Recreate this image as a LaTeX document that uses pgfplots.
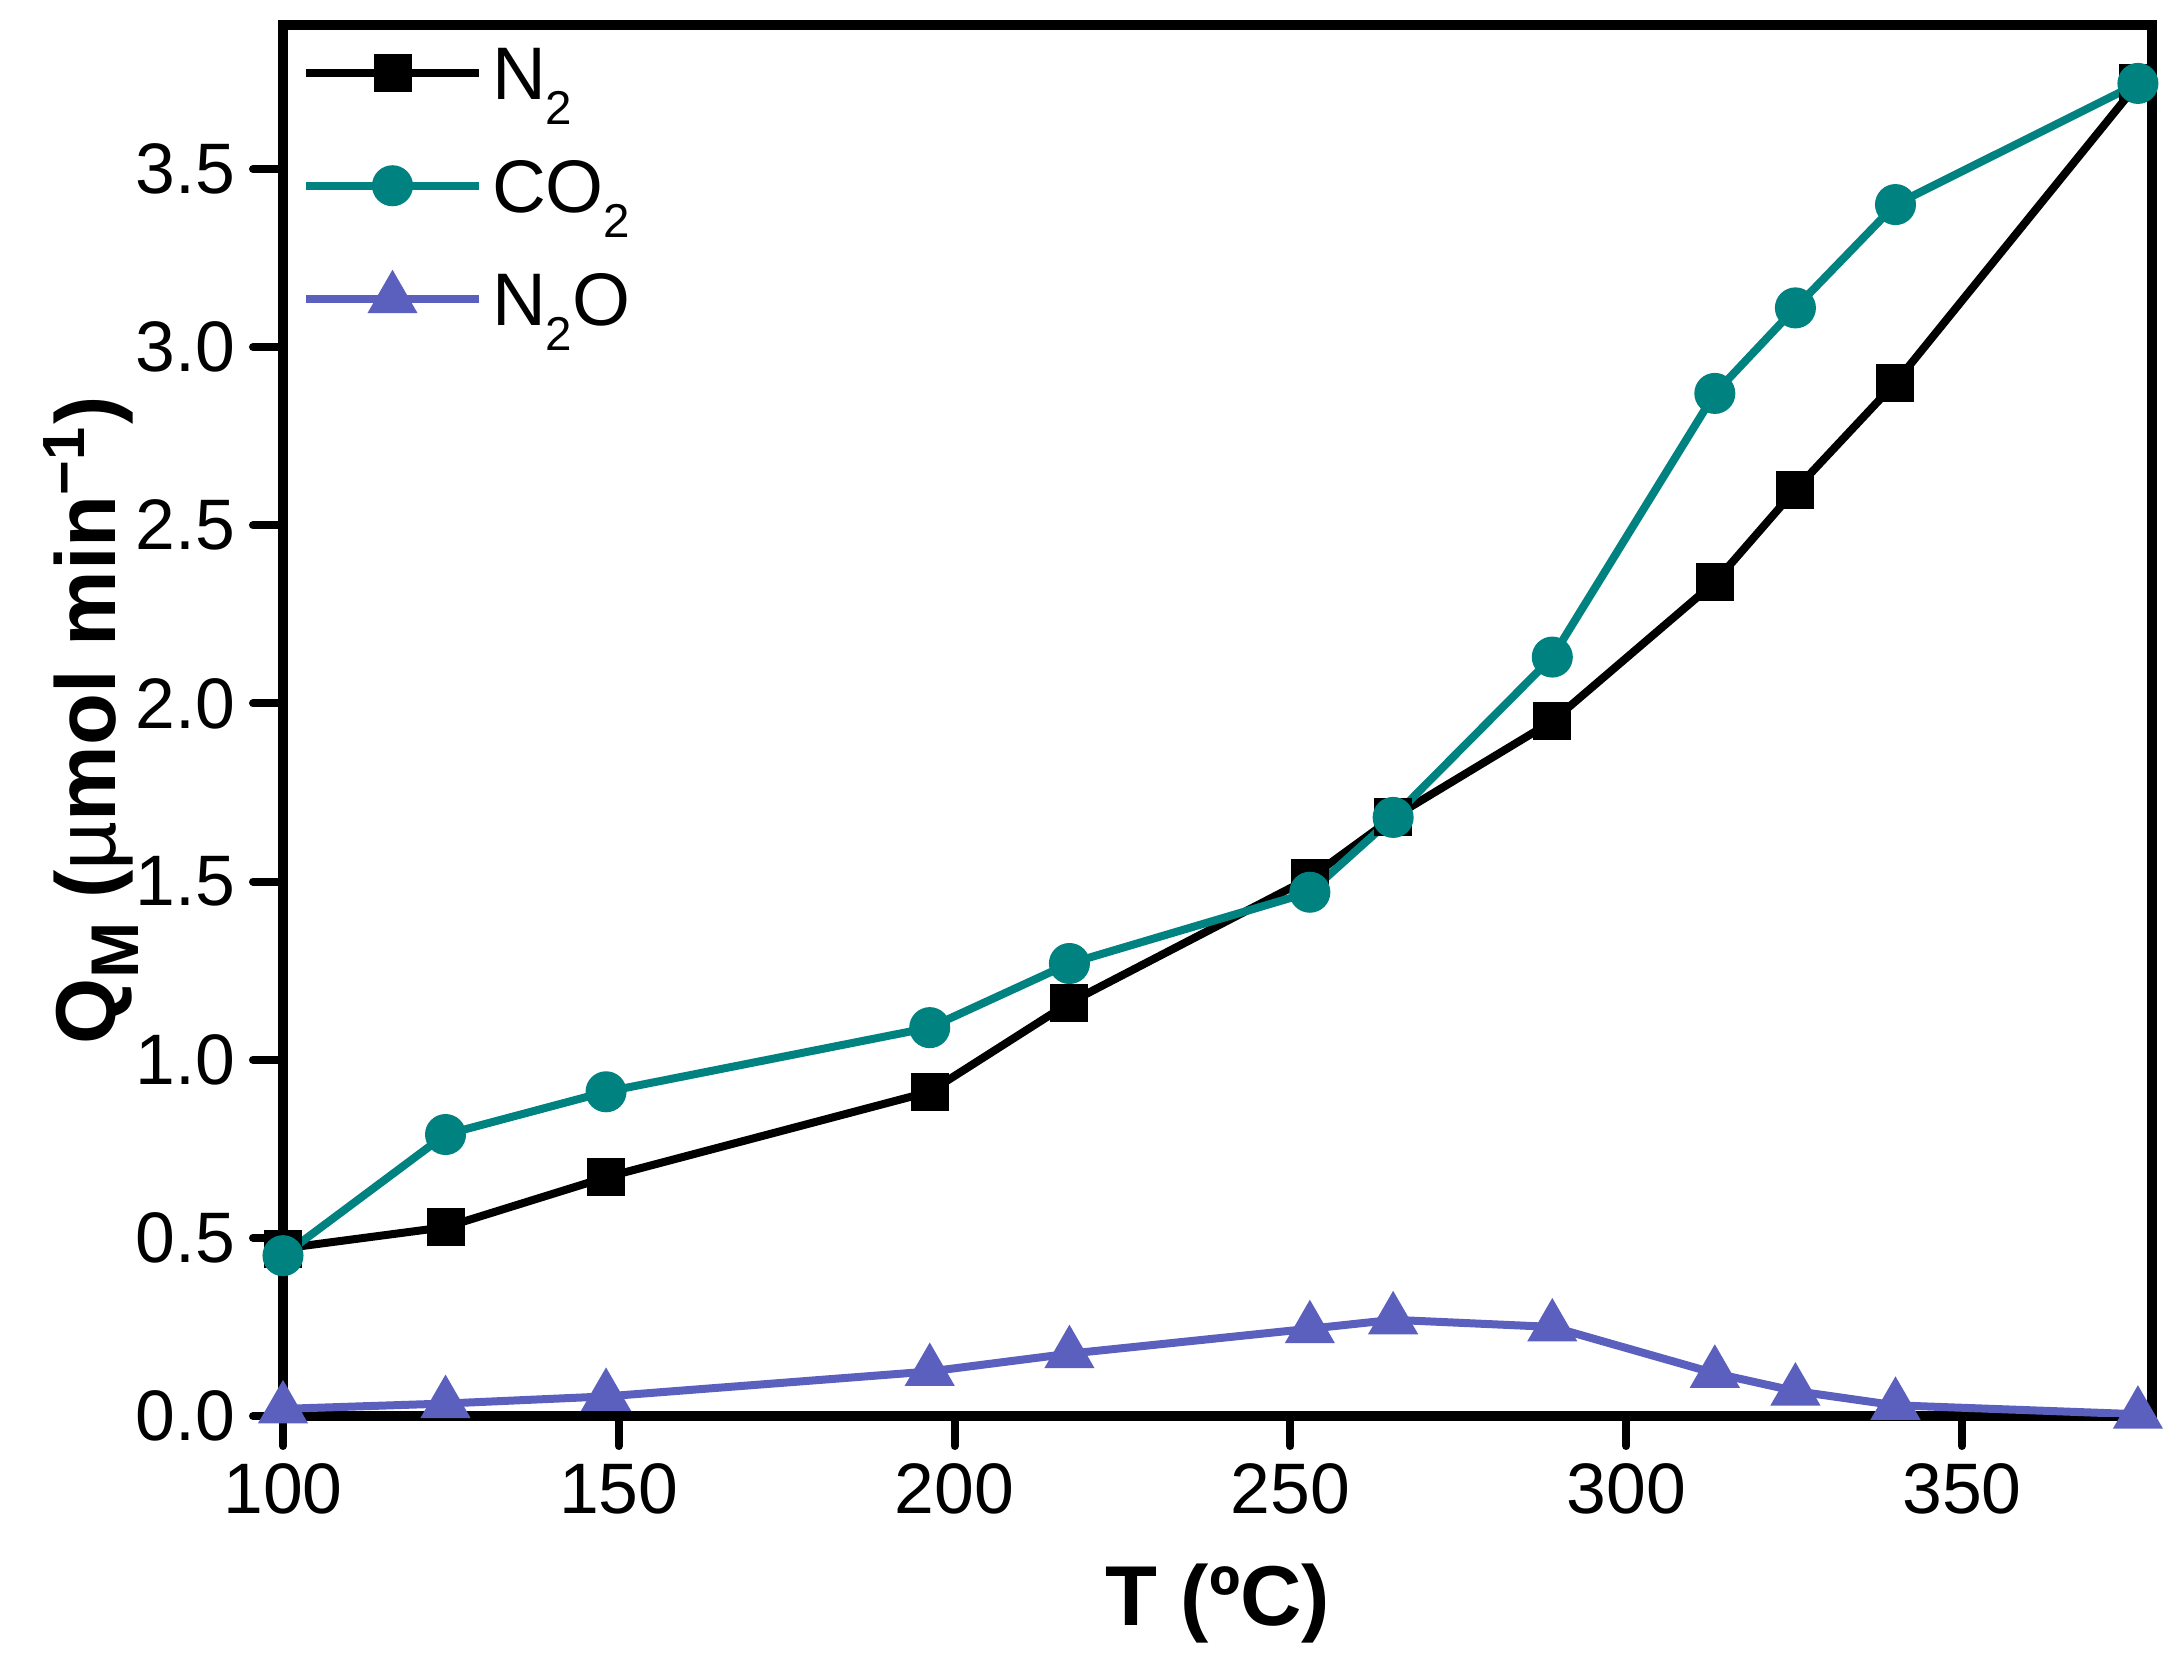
\documentclass[border=0pt]{standalone}
\usepackage{fontspec}
\setmainfont{Liberation Sans}
\usepackage{pgfplots}
\pgfplotsset{compat=1.18}
\definecolor{cteal}{RGB}{0,130,128}
\definecolor{cblue}{RGB}{91,95,189}
\newcommand\lsub[1]{\raisebox{-5pt}{\fontsize{9.5}{10}\selectfont #1}}
\begin{document}
\begin{tikzpicture}
\begin{axis}[
  at={(0,0)}, anchor=south west,
  scale only axis, width=373.8pt, height=278.2pt,
  xmin=100, xmax=378.3, ymin=0, ymax=3.904,
  xtick={100,150,200,250,300,350},
  ytick={0,0.5,1.0,1.5,2.0,2.5,3.0,3.5},
  xtick pos=bottom, ytick pos=left,
  tick align=outside,
  major tick length=6pt,
  tick style={line width=1.6pt, black, line cap=round},
  axis line style={line width=1.9pt},
  /pgf/number format/assume math mode=true,
  ticklabel style={font=\fontsize{14.3}{16}\selectfont},
  yticklabel style={/pgf/number format/.cd, fixed, fixed zerofill, precision=1},
  xticklabel style={/pgf/number format/.cd, fixed, precision=0},
  xlabel={\textbf{T (ºC)}},
  ylabel={\textbf{Q\raisebox{-4.5pt}{\fontsize{13.5}{14}\selectfont M} ({\mdseries µ}mol min\textsuperscript{−1})}},
  label style={font=\fontsize{17}{20}\selectfont},
  x label style={at={(axis description cs:0.5,0)}, anchor=base, yshift=-41.8pt},
  y label style={at={(axis description cs:-0.1027,0.5)}, anchor=center, rotate=0},
  legend cell align=left,
  legend style={at={(axis description cs:0,1)}, anchor=north west, xshift=3.8pt, yshift=-4.2pt,
    draw=none, fill=none, inner sep=0pt, outer sep=0pt,
    font=\fontsize{14.9}{16}\selectfont,
    row sep=11.9pt, column sep=1.8pt,
    nodes={inner sep=0pt, text height=10.7pt, text depth=0pt}},
  legend image code/.code={\draw[mark repeat=2, mark phase=2] plot coordinates {(0pt,0pt)(17.3pt,0pt)(34.6pt,0pt)};},
  every axis plot/.append style={line width=1.6pt},
]
\addplot[black, mark=square*, mark size=3pt, mark options={solid}] coordinates {
(100,0.47) (124.2,0.53) (148.1,0.67) (196.3,0.91) (217.1,1.16) (252.9,1.51)
(265.3,1.68) (289.0,1.95) (313.2,2.34) (325.2,2.60) (340.1,2.90) (376.2,3.74)};
\addlegendentry{N\lsub{2}}
\addplot[cteal, mark=*, mark size=3.3pt, mark options={solid}] coordinates {
(100,0.45) (124.2,0.79) (148.1,0.91) (196.3,1.09) (217.1,1.27) (252.9,1.47)
(265.3,1.68) (289.0,2.13) (313.2,2.87) (325.2,3.11) (340.1,3.40) (376.2,3.74)};
\addlegendentry{CO\lsub{2}}
\addplot[cblue, mark=triangle*, mark size=4.2pt, mark options={solid}] coordinates {
(100,0.02) (124.2,0.035) (148.1,0.055) (196.3,0.125) (217.1,0.175) (252.9,0.245)
(265.3,0.27) (289.0,0.25) (313.2,0.12) (325.2,0.07) (340.1,0.03) (376.2,0.005)};
\addlegendentry{N\lsub{2}O}
\end{axis}
\pgfresetboundingbox
\path (-56.6pt,-48.6pt) rectangle (378.8pt,283.2pt);
\end{tikzpicture}
\end{document}
